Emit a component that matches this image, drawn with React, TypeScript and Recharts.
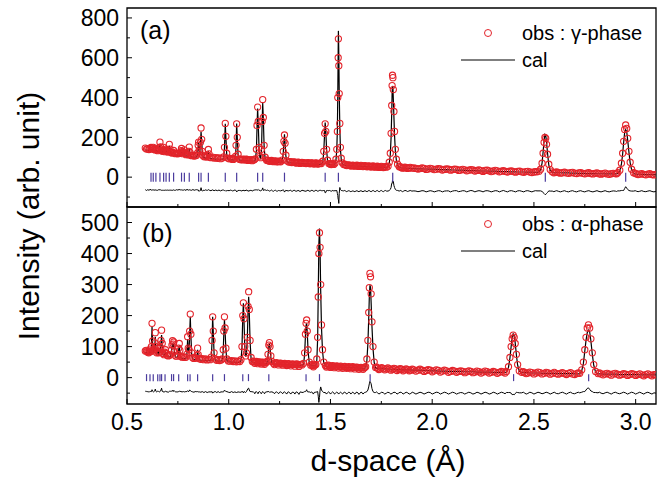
import { ComposedChart, Scatter, Line, XAxis, YAxis, ReferenceArea } from "recharts";

const FONT = "'Liberation Sans', Arial, sans-serif";
const RED = "#e3242b";
const BRAGG = "#4b3c9e";

const gammaRows: [number, number, number][] = [
  [0.590, 146, 137], [0.596, 141, 136], [0.602, 143, 134], [0.608, 139, 133], [0.613, 144, 134],
  [0.618, 149, 140], [0.622, 141, 135], [0.626, 145, 137], [0.629, 150, 142], [0.633, 140, 133],
  [0.638, 137, 130], [0.642, 145, 137], [0.646, 136, 130], [0.651, 133, 127], [0.656, 137, 128],
  [0.659, 148, 140], [0.662, 176, 165], [0.665, 152, 145], [0.669, 134, 128], [0.674, 130, 124],
  [0.678, 138, 132], [0.680, 150, 144], [0.683, 136, 130], [0.687, 128, 122], [0.690, 135, 128],
  [0.692, 141, 134], [0.695, 130, 124], [0.700, 126, 119], [0.705, 133, 127], [0.708, 165, 158],
  [0.711, 141, 136], [0.715, 125, 118], [0.720, 121, 115], [0.725, 124, 118], [0.729, 134, 126],
  [0.733, 121, 115], [0.738, 118, 112], [0.744, 120, 111], [0.750, 117, 110], [0.756, 119, 109],
  [0.762, 122, 114], [0.766, 133, 125], [0.768, 144, 136], [0.771, 128, 121], [0.775, 118, 111],
  [0.779, 124, 117], [0.782, 137, 128], [0.785, 119, 112], [0.790, 113, 107], [0.795, 116, 105],
  [0.800, 112, 105], [0.804, 130, 123], [0.806, 151, 142], [0.809, 126, 119], [0.813, 110, 103],
  [0.818, 108, 102], [0.824, 111, 101], [0.830, 106, 100], [0.836, 108, 100], [0.842, 110, 101],
  [0.847, 122, 114], [0.850, 160, 152], [0.852, 176, 174], [0.855, 137, 134], [0.858, 130, 128],
  [0.861, 175, 170], [0.864, 247, 228], [0.867, 190, 185], [0.870, 130, 128], [0.874, 108, 102],
  [0.880, 102, 97], [0.886, 104, 96], [0.892, 101, 95], [0.896, 110, 104], [0.900, 139, 130],
  [0.903, 117, 109], [0.907, 100, 95], [0.913, 98, 94], [0.920, 101, 93], [0.928, 96, 92],
  [0.936, 98, 91], [0.944, 95, 91], [0.952, 97, 90], [0.960, 93, 90], [0.968, 96, 89],
  [0.975, 102, 95], [0.979, 150, 145], [0.983, 270, 268], [0.986, 205, 200], [0.990, 120, 117],
  [0.995, 96, 91], [1.002, 92, 88], [1.010, 94, 87], [1.018, 90, 87], [1.026, 93, 86],
  [1.033, 104, 98], [1.036, 160, 155], [1.039, 268, 270], [1.042, 200, 198], [1.046, 115, 110],
  [1.052, 90, 85], [1.060, 88, 85], [1.070, 90, 84], [1.080, 86, 83], [1.090, 89, 83],
  [1.100, 85, 82], [1.110, 88, 82], [1.120, 86, 81], [1.130, 92, 84], [1.136, 140, 132],
  [1.139, 260, 250], [1.142, 352, 345], [1.145, 280, 270], [1.149, 150, 145], [1.153, 106, 100],
  [1.157, 98, 95], [1.161, 140, 135], [1.164, 280, 270], [1.167, 390, 372], [1.170, 300, 295],
  [1.174, 160, 152], [1.179, 100, 92], [1.186, 85, 80], [1.195, 83, 78], [1.205, 82, 78],
  [1.215, 80, 77], [1.225, 81, 76], [1.235, 78, 76], [1.245, 80, 75], [1.255, 77, 74],
  [1.263, 86, 80], [1.268, 130, 122], [1.271, 180, 175], [1.274, 212, 215], [1.277, 170, 168],
  [1.281, 110, 104], [1.286, 82, 78], [1.295, 76, 73], [1.305, 78, 72], [1.315, 74, 72],
  [1.325, 76, 71], [1.335, 72, 70], [1.345, 74, 70], [1.355, 71, 69], [1.365, 73, 68],
  [1.375, 70, 68], [1.385, 72, 67], [1.395, 69, 67], [1.405, 71, 66], [1.415, 68, 66],
  [1.425, 70, 65], [1.435, 67, 65], [1.445, 69, 64], [1.455, 68, 64], [1.462, 80, 76],
  [1.467, 130, 125], [1.471, 220, 215], [1.474, 268, 275], [1.477, 230, 235], [1.481, 140, 135],
  [1.486, 85, 80], [1.492, 68, 64], [1.500, 65, 62], [1.508, 66, 62], [1.516, 64, 61],
  [1.522, 70, 66], [1.527, 90, 86], [1.531, 140, 135], [1.534, 230, 240], [1.536, 400, 420],
  [1.538, 600, 640], [1.539, 695, 735], [1.541, 560, 620], [1.543, 420, 430], [1.546, 270, 250],
  [1.549, 150, 140], [1.553, 95, 90], [1.558, 72, 68], [1.565, 63, 60], [1.575, 61, 59],
  [1.585, 60, 58], [1.595, 59, 57], [1.605, 58, 57], [1.615, 57, 56], [1.625, 58, 56],
  [1.635, 56, 55], [1.645, 57, 55], [1.655, 55, 54], [1.665, 56, 54], [1.675, 54, 53],
  [1.685, 55, 52], [1.695, 53, 52], [1.705, 54, 51], [1.715, 52, 51], [1.725, 53, 50],
  [1.735, 51, 50], [1.745, 52, 49], [1.755, 50, 49], [1.765, 51, 48], [1.775, 50, 48],
  [1.783, 55, 53], [1.789, 75, 70], [1.794, 120, 110], [1.798, 220, 200], [1.801, 360, 320],
  [1.803, 460, 420], [1.805, 512, 458], [1.807, 500, 450], [1.809, 440, 390], [1.812, 330, 300],
  [1.815, 230, 210], [1.819, 140, 130], [1.824, 90, 84], [1.830, 65, 60], [1.838, 52, 50],
  [1.848, 49, 46], [1.860, 47, 45], [1.872, 48, 44], [1.885, 46, 44], [1.900, 45, 43],
  [1.920, 44, 42], [1.940, 43, 42], [1.960, 44, 41], [1.980, 41, 40], [2.000, 42, 40],
  [2.020, 40, 39], [2.040, 41, 38], [2.060, 39, 37], [2.080, 40, 37], [2.100, 38, 36],
  [2.120, 39, 35], [2.140, 36, 35], [2.160, 37, 34], [2.180, 35, 33], [2.200, 36, 33],
  [2.220, 34, 32], [2.240, 33, 31], [2.260, 34, 31], [2.280, 32, 30], [2.300, 31, 30],
  [2.320, 32, 29], [2.340, 30, 28], [2.360, 29, 28], [2.380, 30, 27], [2.400, 28, 27],
  [2.420, 29, 26], [2.440, 27, 26], [2.460, 28, 25], [2.480, 26, 25], [2.500, 26, 24],
  [2.515, 27, 24], [2.525, 30, 27], [2.533, 40, 37], [2.540, 70, 70], [2.545, 120, 125],
  [2.550, 175, 185], [2.554, 200, 215], [2.558, 195, 210], [2.562, 165, 175], [2.567, 115, 120],
  [2.573, 65, 62], [2.580, 38, 36], [2.590, 27, 25], [2.605, 24, 22], [2.620, 23, 22],
  [2.640, 22, 21], [2.660, 21, 21], [2.680, 22, 20], [2.700, 20, 20], [2.720, 21, 19],
  [2.740, 19, 19], [2.760, 20, 18], [2.780, 18, 18], [2.800, 19, 18], [2.820, 17, 17],
  [2.840, 18, 17], [2.860, 16, 16], [2.880, 17, 16], [2.900, 18, 16], [2.912, 22, 19],
  [2.922, 35, 32], [2.930, 70, 65], [2.936, 120, 115], [2.941, 180, 175], [2.946, 240, 225],
  [2.951, 262, 238], [2.956, 245, 228], [2.961, 195, 185], [2.967, 130, 125], [2.973, 75, 72],
  [2.980, 40, 38], [2.990, 22, 20], [3.005, 16, 15], [3.020, 15, 14], [3.040, 14, 14],
  [3.060, 15, 13], [3.080, 13, 13], [3.100, 14, 13],
];

// extra background readings between the γ rows above (the dense part of the band)
const gammaFill: [number, number, number][] = [
  [1.014, 92, 87], [1.022, 89, 86], [1.056, 91, 85], [1.065, 87, 84], [1.075, 89, 84],
  [1.085, 90, 83], [1.095, 84, 82], [1.105, 87, 82], [1.115, 83, 81], [1.125, 88, 81],
  [1.190, 86, 79], [1.200, 80, 78], [1.210, 84, 77], [1.220, 78, 77], [1.230, 82, 76],
  [1.240, 77, 75], [1.250, 79, 75], [1.300, 77, 72], [1.310, 73, 72], [1.320, 77, 71],
  [1.330, 71, 70], [1.340, 75, 70], [1.350, 69, 69], [1.360, 74, 68], [1.370, 71, 68],
  [1.380, 68, 67], [1.390, 73, 67], [1.400, 67, 66], [1.410, 72, 66], [1.420, 66, 65],
  [1.430, 71, 65], [1.440, 66, 64], [1.450, 70, 64], [1.496, 68, 63], [1.504, 63, 62],
  [1.512, 67, 62], [1.570, 65, 60], [1.580, 58, 59], [1.590, 62, 58], [1.600, 56, 57],
  [1.610, 60, 57], [1.620, 55, 56], [1.630, 60, 56], [1.640, 54, 55], [1.650, 59, 55],
  [1.660, 53, 54], [1.670, 58, 54], [1.680, 52, 53], [1.690, 57, 52], [1.700, 51, 52],
  [1.710, 56, 51], [1.720, 50, 51], [1.730, 55, 50], [1.740, 49, 50], [1.750, 54, 49],
  [1.760, 48, 49], [1.770, 53, 48], [1.843, 53, 48], [1.854, 45, 46], [1.866, 50, 45],
  [1.878, 44, 44], [1.892, 49, 44], [1.910, 46, 43], [1.930, 41, 42], [1.950, 46, 42],
  [1.970, 39, 41], [1.990, 44, 40], [2.010, 38, 40], [2.030, 43, 39], [2.050, 36, 38],
  [2.070, 41, 38], [2.090, 35, 37], [2.110, 40, 36], [2.130, 34, 35], [2.150, 39, 35],
  [2.170, 32, 34], [2.190, 38, 33], [2.210, 31, 33], [2.230, 36, 32], [2.250, 29, 31],
  [2.270, 35, 31], [2.290, 28, 30], [2.310, 34, 30], [2.330, 27, 29], [2.350, 33, 28],
  [2.370, 26, 28], [2.390, 31, 27], [2.410, 25, 27], [2.430, 30, 26], [2.450, 24, 26],
  [2.470, 29, 25], [2.490, 23, 25], [2.508, 28, 24], [2.598, 22, 23], [2.612, 26, 22],
  [2.630, 20, 22], [2.650, 25, 21], [2.670, 19, 21], [2.690, 24, 20], [2.710, 18, 20],
  [2.730, 23, 19], [2.750, 17, 19], [2.770, 22, 18], [2.790, 16, 18], [2.810, 21, 17],
  [2.830, 15, 17], [2.850, 20, 16], [2.870, 14, 16], [2.890, 19, 16], [2.906, 17, 17],
  [2.998, 19, 15], [3.012, 13, 14], [3.030, 18, 14], [3.050, 12, 13], [3.070, 17, 13],
  [3.090, 11, 13],
];

const alphaRows: [number, number, number][] = [
  [0.590, 86, 80], [0.595, 88, 82], [0.598, 84, 80], [0.602, 82, 77], [0.607, 80, 76],
  [0.611, 86, 82], [0.614, 92, 86], [0.617, 84, 79], [0.620, 100, 95], [0.623, 175, 164],
  [0.626, 118, 112], [0.630, 90, 86], [0.634, 86, 80], [0.637, 112, 105], [0.639, 145, 132],
  [0.642, 100, 94], [0.646, 80, 76], [0.650, 86, 80], [0.653, 95, 88], [0.656, 80, 75],
  [0.660, 82, 78], [0.664, 98, 92], [0.667, 120, 110], [0.670, 153, 137], [0.673, 110, 104],
  [0.677, 78, 73], [0.682, 74, 71], [0.686, 82, 77], [0.689, 90, 84], [0.692, 78, 73],
  [0.697, 72, 68], [0.703, 70, 67], [0.709, 72, 66], [0.714, 75, 69], [0.718, 88, 82],
  [0.721, 105, 98], [0.724, 119, 110], [0.727, 108, 103], [0.730, 115, 106], [0.734, 84, 78],
  [0.739, 70, 66], [0.745, 69, 65], [0.750, 74, 70], [0.754, 95, 90], [0.757, 110, 104],
  [0.760, 88, 82], [0.765, 68, 63], [0.771, 66, 62], [0.777, 67, 62], [0.783, 65, 61],
  [0.789, 66, 61], [0.794, 75, 70], [0.798, 132, 124], [0.801, 95, 90], [0.805, 90, 84],
  [0.808, 150, 140], [0.811, 205, 196], [0.814, 140, 134], [0.818, 80, 75], [0.823, 64, 60],
  [0.829, 62, 59], [0.835, 64, 59], [0.840, 63, 58], [0.844, 72, 68], [0.847, 95, 90],
  [0.850, 74, 70], [0.856, 61, 57], [0.863, 59, 56], [0.870, 61, 56], [0.878, 58, 56],
  [0.886, 60, 55], [0.894, 57, 55], [0.902, 59, 55], [0.909, 58, 54], [0.914, 66, 62],
  [0.918, 120, 115], [0.921, 196, 196], [0.924, 150, 148], [0.928, 80, 76], [0.934, 60, 55],
  [0.941, 56, 54], [0.948, 58, 53], [0.955, 55, 53], [0.962, 57, 53], [0.968, 60, 56],
  [0.973, 90, 86], [0.976, 150, 145], [0.979, 196, 186], [0.982, 160, 152], [0.986, 95, 90],
  [0.991, 60, 55], [0.998, 54, 51], [1.006, 53, 51], [1.014, 55, 50], [1.022, 52, 50],
  [1.030, 54, 50], [1.038, 51, 49], [1.046, 53, 49], [1.054, 52, 49], [1.060, 58, 55],
  [1.065, 100, 95], [1.069, 200, 195], [1.072, 241, 240], [1.075, 190, 185], [1.079, 100, 96],
  [1.083, 70, 68], [1.087, 80, 75], [1.091, 130, 120], [1.095, 230, 215], [1.098, 277, 261],
  [1.101, 220, 210], [1.105, 120, 115], [1.110, 65, 60], [1.116, 52, 48], [1.124, 50, 48],
  [1.132, 51, 47], [1.140, 49, 47], [1.148, 50, 46], [1.156, 48, 46], [1.164, 49, 46],
  [1.172, 47, 45], [1.180, 48, 45], [1.188, 52, 48], [1.193, 75, 70], [1.197, 105, 100],
  [1.200, 113, 110], [1.203, 100, 97], [1.207, 70, 66], [1.212, 52, 48], [1.220, 46, 44],
  [1.230, 47, 44], [1.240, 45, 43], [1.250, 46, 43], [1.260, 44, 42], [1.270, 45, 42],
  [1.280, 43, 42], [1.290, 44, 41], [1.300, 42, 41], [1.310, 43, 41], [1.320, 42, 40],
  [1.330, 43, 40], [1.340, 41, 40], [1.350, 42, 39], [1.360, 41, 39], [1.368, 46, 43],
  [1.373, 80, 75], [1.377, 140, 135], [1.380, 175, 168], [1.383, 186, 175], [1.386, 150, 145],
  [1.390, 90, 86], [1.396, 50, 46], [1.403, 40, 38], [1.412, 39, 38], [1.420, 40, 38],
  [1.428, 42, 39], [1.433, 60, 56], [1.437, 130, 125], [1.440, 260, 270], [1.443, 400, 430],
  [1.446, 467, 481], [1.449, 420, 410], [1.452, 300, 280], [1.456, 170, 160], [1.461, 90, 85],
  [1.467, 50, 48], [1.475, 39, 37], [1.485, 37, 36], [1.495, 38, 36], [1.505, 36, 35],
  [1.515, 37, 35], [1.525, 35, 35], [1.535, 36, 34], [1.545, 35, 34], [1.555, 34, 34],
  [1.565, 35, 33], [1.575, 34, 33], [1.585, 33, 33], [1.595, 34, 32], [1.605, 33, 32],
  [1.615, 32, 32], [1.625, 33, 31], [1.635, 32, 31], [1.645, 31, 31], [1.655, 32, 30],
  [1.665, 31, 30], [1.673, 35, 32], [1.679, 60, 55], [1.684, 120, 110], [1.688, 210, 190],
  [1.691, 290, 260], [1.694, 336, 298], [1.697, 325, 290], [1.700, 270, 240], [1.704, 180, 165],
  [1.709, 100, 95], [1.715, 50, 48], [1.722, 33, 31], [1.732, 30, 29], [1.745, 29, 29],
  [1.760, 29, 28], [1.775, 28, 28], [1.790, 28, 27], [1.805, 27, 27], [1.820, 28, 26],
  [1.835, 26, 26], [1.850, 27, 25], [1.865, 25, 25], [1.880, 26, 25], [1.895, 24, 25],
  [1.910, 25, 24], [1.930, 24, 24], [1.950, 24, 23], [1.970, 23, 23], [1.990, 24, 22],
  [2.010, 22, 22], [2.030, 23, 21], [2.050, 21, 21], [2.070, 22, 21], [2.090, 20, 20],
  [2.110, 21, 20], [2.130, 20, 20], [2.150, 20, 19], [2.170, 19, 19], [2.190, 20, 19],
  [2.210, 18, 19], [2.230, 19, 18], [2.250, 18, 18], [2.270, 19, 18], [2.290, 17, 18],
  [2.310, 18, 17], [2.330, 17, 17], [2.350, 18, 17], [2.365, 20, 18], [2.375, 35, 33],
  [2.382, 65, 63], [2.388, 100, 100], [2.393, 125, 130], [2.398, 137, 141], [2.403, 130, 135],
  [2.408, 110, 112], [2.414, 75, 72], [2.420, 42, 40], [2.428, 22, 21], [2.440, 17, 16],
  [2.455, 16, 16], [2.470, 15, 16], [2.490, 16, 15], [2.510, 15, 15], [2.530, 16, 15],
  [2.550, 14, 14], [2.570, 15, 14], [2.590, 14, 14], [2.610, 13, 14], [2.630, 14, 13],
  [2.650, 13, 13], [2.670, 14, 13], [2.690, 12, 13], [2.710, 13, 12], [2.725, 14, 13],
  [2.735, 25, 22], [2.743, 50, 45], [2.750, 90, 85], [2.756, 130, 120], [2.762, 160, 145],
  [2.768, 170, 153], [2.774, 160, 148], [2.780, 125, 118], [2.787, 80, 75], [2.794, 42, 40],
  [2.803, 20, 18], [2.815, 13, 12], [2.830, 12, 12], [2.850, 12, 11], [2.870, 11, 11],
  [2.890, 12, 11], [2.910, 11, 11], [2.930, 10, 10], [2.950, 11, 10], [2.970, 10, 10],
  [2.990, 11, 10], [3.010, 10, 10], [3.030, 9, 9], [3.050, 10, 9], [3.070, 9, 9],
  [3.090, 10, 9], [3.100, 9, 9],
];

// extra background readings between the α rows above
const alphaFill: [number, number, number][] = [
  [1.120, 53, 48], [1.128, 46, 48], [1.136, 52, 47], [1.144, 45, 47], [1.152, 51, 46],
  [1.160, 44, 46], [1.168, 50, 45], [1.176, 43, 45], [1.184, 49, 45], [1.225, 42, 44],
  [1.235, 48, 44], [1.245, 41, 43], [1.255, 47, 43], [1.265, 40, 42], [1.275, 46, 42],
  [1.285, 39, 42], [1.295, 45, 41], [1.305, 38, 41], [1.315, 44, 41], [1.325, 37, 40],
  [1.335, 44, 40], [1.345, 36, 40], [1.355, 43, 39], [1.408, 42, 38], [1.416, 35, 38],
  [1.424, 41, 38], [1.480, 34, 37], [1.490, 40, 36], [1.500, 33, 36], [1.510, 39, 35],
  [1.520, 32, 35], [1.530, 38, 35], [1.540, 31, 34], [1.550, 37, 34], [1.560, 30, 33],
  [1.570, 36, 33], [1.580, 30, 33], [1.590, 35, 32], [1.600, 29, 32], [1.610, 35, 32],
  [1.620, 28, 31], [1.630, 34, 31], [1.640, 27, 31], [1.650, 33, 30], [1.660, 27, 30],
  [1.668, 33, 31], [1.727, 34, 30], [1.738, 26, 29], [1.752, 32, 29], [1.767, 25, 28],
  [1.782, 31, 28], [1.797, 24, 27], [1.812, 30, 27], [1.827, 23, 26], [1.842, 29, 26],
  [1.857, 22, 25], [1.872, 28, 25], [1.887, 22, 25], [1.902, 27, 24], [1.920, 21, 24],
  [1.940, 27, 24], [1.960, 20, 23], [1.980, 26, 23], [2.000, 19, 22], [2.020, 25, 22],
  [2.040, 18, 21], [2.060, 24, 21], [2.080, 17, 20], [2.100, 23, 20], [2.120, 17, 20],
  [2.140, 22, 20], [2.160, 16, 19], [2.180, 22, 19], [2.200, 16, 19], [2.220, 21, 18],
  [2.240, 15, 18], [2.260, 21, 18], [2.280, 15, 18], [2.300, 20, 17], [2.320, 14, 17],
  [2.340, 20, 17], [2.358, 15, 17], [2.448, 19, 16], [2.462, 13, 16], [2.480, 18, 15],
  [2.500, 12, 15], [2.520, 18, 15], [2.540, 12, 14], [2.560, 17, 14], [2.580, 11, 14],
  [2.600, 17, 14], [2.620, 11, 13], [2.640, 16, 13], [2.660, 10, 13], [2.680, 16, 13],
  [2.700, 10, 12], [2.718, 15, 12], [2.822, 15, 12], [2.840, 9, 11], [2.860, 14, 11],
  [2.880, 8, 11], [2.900, 14, 11], [2.920, 8, 10], [2.940, 13, 10], [2.960, 7, 10],
  [2.980, 13, 10], [3.000, 7, 10], [3.020, 12, 9], [3.040, 6, 9], [3.060, 12, 9],
  [3.080, 6, 9],
];

// Bragg reflection positions (tick marks)
const gammaBragg = [0.618, 0.629, 0.642, 0.662, 0.68, 0.692, 0.708, 0.729, 0.768, 0.782, 0.806, 0.852, 0.864, 0.9, 0.983, 1.039, 1.142, 1.167, 1.274, 1.474, 1.539, 1.806, 2.556, 2.951];
const alphaBragg = [0.596, 0.613, 0.629, 0.651, 0.662, 0.67, 0.687, 0.719, 0.729, 0.754, 0.798, 0.81, 0.847, 0.921, 0.979, 1.069, 1.097, 1.197, 1.38, 1.446, 1.695, 2.4, 2.769];

const xTicks = [0.5, 0.75, 1.0, 1.25, 1.5, 1.75, 2.0, 2.25, 2.5, 2.75, 3.0];
const gammaYTicks = [-100, 0, 100, 200, 300, 400, 500, 600, 700, 800];
const alphaYTicks = [-50, 0, 50, 100, 150, 200, 250, 300, 350, 400, 450, 500];

const X_DOMAIN: [number, number] = [0.5, 3.1];
const TICK_MARGIN = 8;

const byD = (a: [number, number, number], b: [number, number, number]) => a[0] - b[0];

const Circle = (props: any) => (
  <circle cx={props.cx} cy={props.cy} r={3.1} fill="none" stroke={RED} strokeWidth={1.1} />
);

const makeBar = (half: number) => (props: any) => (
  <line x1={props.cx} x2={props.cx} y1={props.cy - half} y2={props.cy + half} stroke={BRAGG} strokeWidth={1.2} />
);

const makeYTick = (step: number) => (props: any) => {
  const { x, y, payload } = props;
  const major = payload.value % step === 0;
  const ax = x + TICK_MARGIN;
  return (
    <g>
      <line x1={ax} x2={ax + (major ? 5 : 3)} y1={y} y2={y} stroke="#000" strokeWidth={1} />
      {major && (
        <text x={x} y={y} dy="0.36em" textAnchor="end" fontSize={23} fontFamily={FONT} fill="#000">
          {payload.value}
        </text>
      )}
    </g>
  );
};

const makeXTick = (labels: boolean) => (props: any) => {
  const { x, y, payload } = props;
  const ay = y - TICK_MARGIN;
  const major = Math.abs(payload.value * 2 - Math.round(payload.value * 2)) < 1e-6;
  return (
    <g>
      <line x1={x} x2={x} y1={ay} y2={ay - (major ? 5 : 3)} stroke="#000" strokeWidth={1} />
      {labels && major && (
        <text x={x} y={ay + 26} textAnchor="middle" fontSize={23} fontFamily={FONT} fill="#000">
          {payload.value.toFixed(1)}
        </text>
      )}
    </g>
  );
};

type PanelProps = {
  rows: [number, number, number][];
  bragg: number[];
  yDomain: [number, number];
  yTicks: number[];
  labelStep: number;
  diffOffset: number;
  barHalf: number;
  top: number;
  height: number;
  marginTop: number;
  xAxisHeight: number;
  xLabels: boolean;
};

const Panel = ({ rows, bragg, yDomain, yTicks, labelStep, diffOffset, barHalf, top, height, marginTop, xAxisHeight, xLabels }: PanelProps) => {
  const obs = rows.map(([d, o]) => ({ d, v: o }));
  const cal = rows.map(([d, , c]) => ({ d, v: c }));
  const diff = rows.map(([d, o, c]) => ({ d, v: o - c + diffOffset }));
  const bars = bragg.map((d) => ({ d, v: 0 }));
  return (
    <div style={{ position: "absolute", left: 0, top }}>
      <ComposedChart width={665} height={height} margin={{ top: marginTop, right: 9, bottom: 0, left: 0 }}>
        <XAxis
          type="number"
          dataKey="d"
          domain={X_DOMAIN}
          ticks={xTicks}
          interval={0}
          allowDataOverflow
          axisLine={false}
          tickLine={false}
          tickSize={0}
          tickMargin={TICK_MARGIN}
          height={xAxisHeight}
          tick={makeXTick(xLabels)}
        />
        <YAxis
          type="number"
          dataKey="v"
          domain={yDomain}
          ticks={yTicks}
          interval={0}
          allowDataOverflow
          axisLine={false}
          tickLine={false}
          tickSize={0}
          tickMargin={TICK_MARGIN}
          width={127}
          tick={makeYTick(labelStep)}
        />
        <ReferenceArea x1={X_DOMAIN[0]} x2={X_DOMAIN[1]} y1={yDomain[0]} y2={yDomain[1]} fill="none" stroke="#000" strokeWidth={1.3} />
        <Scatter data={obs} shape={Circle} isAnimationActive={false} />
        <Line data={cal} dataKey="v" type="linear" stroke="#000" strokeWidth={1.2} dot={false} isAnimationActive={false} />
        <Line data={diff} dataKey="v" type="linear" stroke="#000" strokeWidth={1} dot={false} isAnimationActive={false} />
        <Scatter data={bars} shape={makeBar(barHalf)} isAnimationActive={false} />
      </ComposedChart>
    </div>
  );
};

const LegendBlock = ({ y, phase }: { y: number; phase: string }) => (
  <g fontFamily={FONT} fontSize={20} fill="#000">
    <circle cx={488} cy={y} r={3.5} fill="none" stroke={RED} strokeWidth={1} />
    <text x={522} y={y + 7}>{`obs : ${phase}-phase`}</text>
    <line x1={461} x2={515} y1={y + 27} y2={y + 27} stroke="#000" strokeWidth={1.2} />
    <text x={522} y={y + 34}>cal</text>
  </g>
);

export default function App() {
  const gamma = [...gammaRows, ...gammaFill].sort(byD);
  const alpha = [...alphaRows, ...alphaFill].sort(byD);
  return (
    <div style={{ position: "absolute", left: 0, top: 0, width: 665, height: 481, background: "#fff" }}>
      <Panel
        rows={gamma}
        bragg={gammaBragg}
        yDomain={[-150, 850]}
        yTicks={gammaYTicks}
        labelStep={200}
        diffOffset={-72}
        barHalf={4.5}
        top={0}
        height={215}
        marginTop={8}
        xAxisHeight={8}
        xLabels={false}
      />
      <Panel
        rows={alpha}
        bragg={alphaBragg}
        yDomain={[-85, 550]}
        yTicks={alphaYTicks}
        labelStep={100}
        diffOffset={-50}
        barHalf={3.5}
        top={200}
        height={281}
        marginTop={7}
        xAxisHeight={77}
        xLabels={true}
      />
      <svg width={665} height={481} style={{ position: "absolute", left: 0, top: 0, pointerEvents: "none" }}>
        <text x={140} y={39} fontFamily={FONT} fontSize={25}>(a)</text>
        <text x={142} y={242} fontFamily={FONT} fontSize={25}>(b)</text>
        <LegendBlock y={33} phase="γ" />
        <LegendBlock y={224} phase="α" />
        <text x={388} y={471} textAnchor="middle" fontFamily={FONT} fontSize={30}>d-space (Å)</text>
        <text x={39} y={216} textAnchor="middle" fontFamily={FONT} fontSize={30} transform="rotate(-90 39 216)">
          Intensity (arb. unit)
        </text>
      </svg>
    </div>
  );
}
